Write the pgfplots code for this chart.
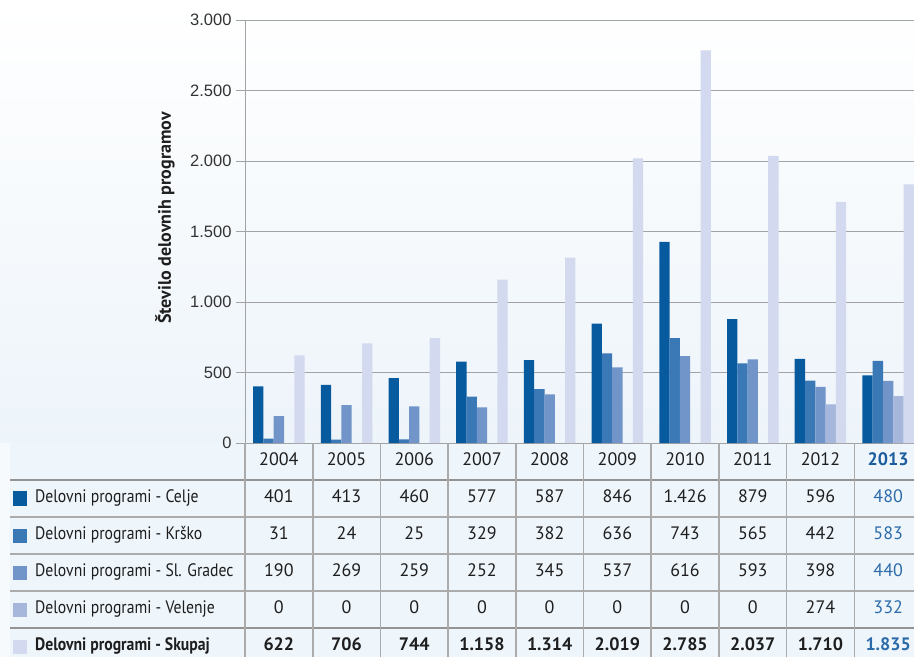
\documentclass[border=0pt]{standalone}
\usepackage{pgfplots}
\pgfplotsset{compat=1.18}
\usepackage{fontspec}
\setmainfont{Liberation Sans}
\newfontfamily\tabfont{PT Sans}
\newfontfamily\ylfont{PT Sans}
\newfontfamily\tickfont{Liberation Sans}
\definecolor{celje}{HTML}{085A9E}
\definecolor{krsko}{HTML}{3A78B6}
\definecolor{gradec}{HTML}{7195C9}
\definecolor{velenje}{HTML}{A7B6DB}
\definecolor{skupaj}{HTML}{D3D9EE}
\definecolor{val13}{HTML}{2B6BAA}
\definecolor{head13}{HTML}{1A5C9C}
\definecolor{bgblue}{HTML}{EDF4FA}
\definecolor{tabbg}{HTML}{EEF5FB}
\definecolor{gridc}{HTML}{A3A3A3}
\definecolor{tabline}{HTML}{ABABAB}
\definecolor{txt}{HTML}{1E1E1E}
\newcommand\tabrow[3]{%
  \foreach \v [count=\k from 0] in {#3} {
    \pgfmathsetmacro\cx{245+67.7*(\k+0.5)}
    \ifnum\k=9 \def\cc{val13}\else\def\cc{txt}\fi
    \node[font=#2, text=\cc, inner sep=0pt] at (\cx,#1) {\strut\v};
  }}
\begin{document}
\begin{tikzpicture}[x=1pt,y=1pt]
\useasboundingbox (0,0) rectangle (914,657);
\clip (0,0) rectangle (914,657);
\shade[top color=white, bottom color=bgblue] (0,214) rectangle (914,657);
\fill[white!50!tabbg] (0,0) rectangle (10,214);
\fill[tabbg] (10,0) rectangle (914,214);
\begin{axis}[
  at={(245pt,214pt)}, anchor=south west,
  scale only axis, width=677pt, height=423pt,
  xmin=-0.5, xmax=9.5, ymin=0, ymax=3000,
  ybar=0pt, bar width=10.3pt,
  xtick=\empty,
  ytick={0,500,...,3000},
  axis x line*=bottom, axis y line*=left,
  axis line style={draw=gridc, line width=1pt, -},
  ymajorgrids, grid style={draw=gridc, line width=0.9pt},
  tick align=outside, major tick length=9pt,
  ytick style={draw=gridc, line width=0.9pt},
  yticklabel style={font=\tickfont\fontsize{16.5}{18}\selectfont, text=black!80, xshift=-1pt},
  /pgf/number format/assume math mode=true,
  /pgf/number format/1000 sep={.},
  ylabel={Število delovnih programov},
  ylabel style={font=\ylfont\bfseries\fontsize{18}{20}\selectfont, text=txt,
    at={(axis description cs:-0.1182,0.532)}, anchor=center},
  every axis plot/.append style={draw=none},
  clip=true,
]
\addplot[fill=celje] coordinates {(0,401)(1,413)(2,460)(3,577)(4,587)(5,846)(6,1426)(7,879)(8,596)(9,480)};
\addplot[fill=krsko] coordinates {(0,31)(1,24)(2,25)(3,329)(4,382)(5,636)(6,743)(7,565)(8,442)(9,583)};
\addplot[fill=gradec] coordinates {(0,190)(1,269)(2,259)(3,252)(4,345)(5,537)(6,616)(7,593)(8,398)(9,440)};
\addplot[fill=velenje] coordinates {(0,0)(1,0)(2,0)(3,0)(4,0)(5,0)(6,0)(7,0)(8,274)(9,332)};
\addplot[fill=skupaj] coordinates {(0,622)(1,706)(2,744)(3,1158)(4,1314)(5,2019)(6,2785)(7,2037)(8,1710)(9,1835)};
\end{axis}
% table grid
\foreach \yy in {140,103,66} \draw[tabline, line width=1.6pt] (10,\yy) -- (914,\yy);
\foreach \yy in {177,29} \draw[gridc!90!black, line width=2.6pt] (10,\yy) -- (914,\yy);
\foreach \k in {0,...,9} \draw[tabline, line width=1.6pt] ({245+67.7*\k},0) -- ({245+67.7*\k},214);
% header
\foreach \yr [count=\k from 0] in {2004,2005,2006,2007,2008,2009,2010,2011,2012} {
  \node[font=\tabfont\fontsize{18}{20}\selectfont, text=txt, inner sep=0pt] at ({245+67.7*(\k+0.5)},195) {\strut\yr};
}
\node[font=\tabfont\bfseries\fontsize{18}{20}\selectfont, text=head13, inner sep=0pt] at ({245+67.7*9.5},195) {\strut 2013};
% legend squares and labels
\fill[celje] (12.5,151.5) rectangle (26.5,165.5);
\fill[krsko] (12.5,114.5) rectangle (26.5,128.5);
\fill[gradec] (12.5,77.5) rectangle (26.5,91.5);
\fill[velenje] (12.5,40.5) rectangle (26.5,54.5);
\fill[skupaj] (12.5,3.5) rectangle (26.5,17.5);
\begin{scope}[every node/.style={anchor=west, xscale=0.872, text=txt, inner sep=0pt}]
\node[font=\tabfont\fontsize{18}{20}\selectfont] at (35,158.5) {\strut Delovni programi - Celje};
\node[font=\tabfont\fontsize{18}{20}\selectfont] at (35,121.5) {\strut Delovni programi - Krško};
\node[font=\tabfont\fontsize{18}{20}\selectfont] at (35,84.5) {\strut Delovni programi - Sl. Gradec};
\node[font=\tabfont\fontsize{18}{20}\selectfont] at (35,47.5) {\strut Delovni programi - Velenje};
\node[font=\tabfont\bfseries\fontsize{18}{20}\selectfont] at (35,10.5) {\strut Delovni programi - Skupaj};
\end{scope}
% values
\tabrow{158.5}{\tabfont\fontsize{18}{20}\selectfont}{401,413,460,577,587,846,1.426,879,596,480}
\tabrow{121.5}{\tabfont\fontsize{18}{20}\selectfont}{31,24,25,329,382,636,743,565,442,583}
\tabrow{84.5}{\tabfont\fontsize{18}{20}\selectfont}{190,269,259,252,345,537,616,593,398,440}
\tabrow{47.5}{\tabfont\fontsize{18}{20}\selectfont}{0,0,0,0,0,0,0,0,274,332}
\tabrow{10.5}{\tabfont\bfseries\fontsize{18}{20}\selectfont}{622,706,744,1.158,1.314,2.019,2.785,2.037,1.710,1.835}
\end{tikzpicture}
\end{document}
